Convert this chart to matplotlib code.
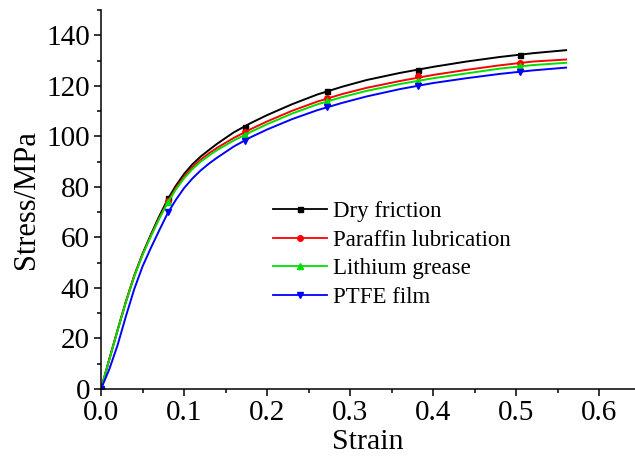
import matplotlib
matplotlib.use("Agg")
import matplotlib.pyplot as plt
from matplotlib.lines import Line2D
from matplotlib.ticker import MultipleLocator

plt.rcParams['font.family'] = ['Liberation Serif', 'DejaVu Serif']

strain = [0, .01, .02, .03, .04, .05, .06, .07, .08, .09, .10, .11, .12, .13, .14, .16, .18,
          .20, .23, .26, .29, .32, .36, .40, .44, .48, .52, .56]

dry = [0, 11.8, 23.4, 34.6, 44.8, 53.5, 61.1, 68.3, 74.9, 80.4, 85.1, 88.9, 92.0, 94.6, 97.1,
       101.6, 105.2, 108.4, 112.7, 116.5, 119.6, 122.3, 125.1, 127.5, 129.6, 131.4, 132.9, 134.1]
paraffin = [0, 11.7, 23.3, 34.6, 44.8, 53.3, 60.7, 67.6, 74.0, 79.5, 84.1, 87.8, 90.8, 93.3, 95.5,
            99.4, 102.8, 105.9, 110.1, 113.7, 116.7, 119.2, 121.9, 124.3, 126.3, 128.1, 129.6, 130.4]
lithium = [0, 11.7, 23.2, 34.4, 44.5, 53.0, 60.4, 67.3, 73.6, 78.9, 83.4, 87.0, 90.0, 92.4, 94.6,
           98.4, 101.7, 104.8, 109.0, 112.6, 115.5, 118.0, 120.7, 123.0, 124.9, 126.8, 128.2, 129.1]
ptfe = [0, 7.8, 17.4, 28.8, 39.5, 48.5, 55.8, 62.7, 69.4, 74.8, 79.5, 83.3, 86.5, 89.2, 91.6,
        96.0, 99.6, 102.7, 106.8, 110.3, 113.2, 115.8, 118.7, 121.1, 123.0, 124.7, 126.1, 127.2]

marker_strain = [0, 0.081, 0.173, 0.272, 0.382, 0.505]
dry_m = [0, 75.5, 103.8, 117.8, 126.3, 132.2]
paraffin_m = [0, 74.6, 101.8, 115.0, 123.7, 129.1]
lithium_m = [0, 74.1, 100.5, 114.0, 121.9, 127.7]
ptfe_m = [0, 70.0, 98.0, 111.6, 120.0, 125.5]

labels = ["Dry friction", "Paraffin lubrication", "Lithium grease", "PTFE film"]
colors = ["#000000", "#FF0000", "#00E000", "#0000FF"]
markers = ["s", "o", "^", "v"]
msizes = [3.6, 4.0, 4.6, 4.6]

fig = plt.figure(figsize=(6.35, 4.59), dpi=100)
ax = fig.add_axes([101/635, 1-389/459, 1-101/635, 379/459])

series = [dry, paraffin, lithium, ptfe]
mseries = [dry_m, paraffin_m, lithium_m, ptfe_m]
handles = []
for s, ms_, c, m, sz, lab in zip(series, mseries, colors, markers, msizes, labels):
    ax.plot(strain, s, color=c, lw=1.4, solid_joinstyle='round')
    ax.plot(marker_strain, ms_, ls='none', marker=m, color=c, ms=sz)
    handles.append(Line2D([], [], color=c, lw=1.3, marker=m, ms=sz, label=lab))

ax.set_xlim(0, 0.643)
ax.set_ylim(0, 150)
ax.xaxis.set_minor_locator(MultipleLocator(0.05))
ax.yaxis.set_minor_locator(MultipleLocator(10))
ax.set_xticks([0, 0.1, 0.2, 0.3, 0.4, 0.5, 0.6])
ax.set_xticklabels(["0.0", "0.1", "0.2", "0.3", "0.4", "0.5", "0.6"])
ax.set_yticks([0, 20, 40, 60, 80, 100, 120, 140])
ax.set_yticklabels(["0", "20", "40", "60", "80", "100", "120", "140"])

for sp in ['top', 'right']:
    ax.spines[sp].set_visible(False)
for sp in ['left', 'bottom']:
    ax.spines[sp].set_linewidth(1.1)

ax.tick_params(axis='both', which='major', direction='out', length=5, width=1.1,
               labelsize=21, pad=3)
ax.tick_params(axis='both', which='minor', direction='out', length=3, width=1.1)

ax.set_xlabel("Strain", fontsize=21.5, labelpad=2)
ax.set_ylabel("Stress/MPa", fontsize=22, labelpad=4)

ax.legend(handles=handles, loc='upper left', bbox_to_anchor=(273/635, 1-201/459),
          bbox_transform=fig.transFigure, frameon=False, fontsize=16.5,
          handlelength=2.35, handletextpad=0.28, labelspacing=0.33, borderpad=0,
          borderaxespad=0)

fig.savefig("out.png", dpi=100)
